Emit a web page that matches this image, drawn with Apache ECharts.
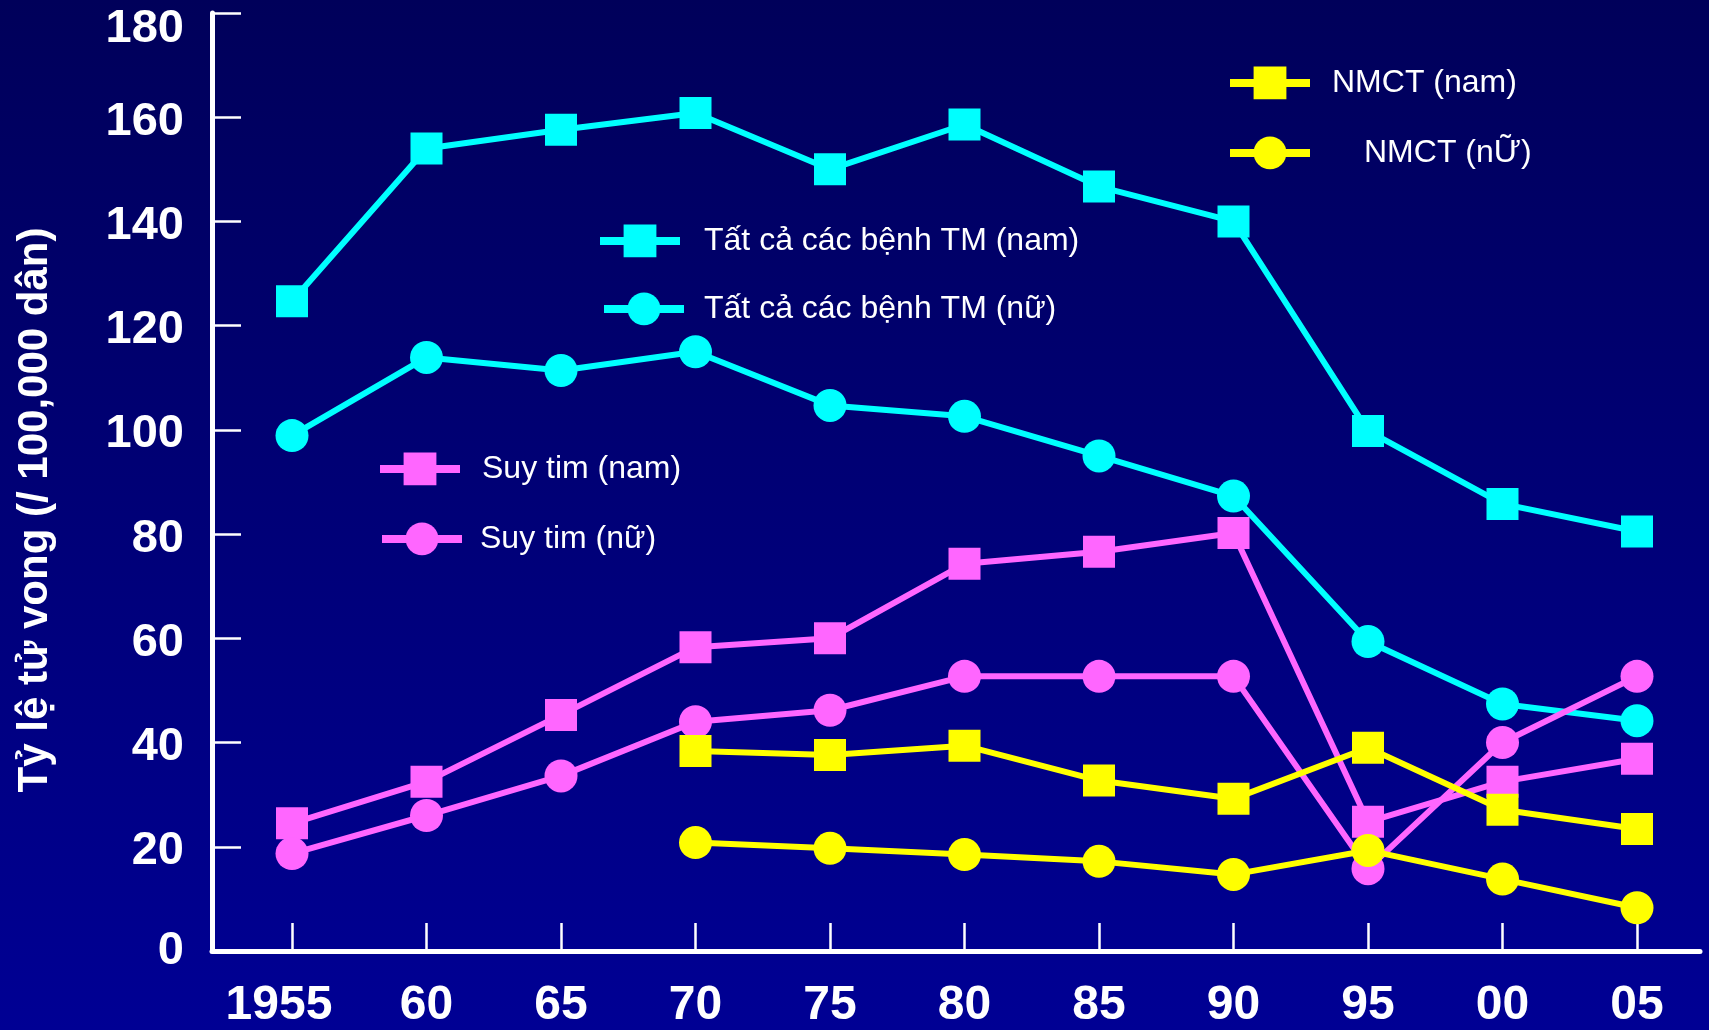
<!DOCTYPE html>
<html>
<head>
<meta charset="utf-8">
<script src="https://cdn.jsdelivr.net/npm/echarts@6/dist/echarts.min.js"></script>
<style>
html,body{margin:0;padding:0;background:#000070;}
#c{width:1709px;height:1030px;background:linear-gradient(to bottom,#00005a 0%,#000094 100%);}
</style>
</head>
<body>
<div id="c"></div>
<script>
// ---- data ----
const years = [1955, 1960, 1965, 1970, 1975, 1980, 1985, 1990, 1995, 2000, 2005];
const xTickLabels = ['1955', '60', '65', '70', '75', '80', '85', '90', '95', '00', '05'];
const tmNam = [124.7, 154, 157.6, 160.8, 150, 158.6, 146.7, 140, 99.8, 85.8, 80.5];
const tmNu  = [98.9, 113.9, 111.4, 115, 104.7, 102.6, 95, 87.3, 59.4, 47.4, 44.2];
const stNam = [24.5, 32.5, 45.3, 58.3, 60, 74.3, 76.6, 80.2, 24.8, 32.5, 36.9];
const stNu  = [18.7, 26, 33.6, 44, 46.2, 52.7, 52.7, 52.7, 15.8, 40, 52.7];
const nmNam = [null, null, null, 38.4, 37.6, 39.4, 32.7, 29.2, 39, 27.1, 23.4];
const nmNu  = [null, null, null, 20.8, 19.7, 18.5, 17.2, 14.7, 19.3, 13.8, 8.3];
const yTicks = [0, 20, 40, 60, 80, 100, 120, 140, 160, 180];

const names = {
  tmNam: 'Tất cả các bệnh TM (nam)',
  tmNu: 'Tất cả các bệnh TM (nữ)',
  stNam: 'Suy tim (nam)',
  stNu: 'Suy tim (nữ)',
  nmNam: 'NMCT (nam)',
  nmNu: 'NMCT (nỮ)'
};

const CYAN = '#00ffff', MAG = '#ff66ff', YEL = '#ffff00';
const FONT = '"Liberation Sans", Arial, sans-serif';

function pairs(vals) {
  const out = [];
  vals.forEach((v, i) => { if (v !== null) out.push([years[i], v]); });
  return out;
}
function mkSeries(name, vals, color, symbol) {
  return {
    name: name, type: 'line', data: pairs(vals),
    symbol: symbol, symbolSize: symbol === 'rect' ? 32 : 33,
    lineStyle: { color: color, width: 6 },
    itemStyle: { color: color },
    emphasis: { disabled: true }
  };
}
function mkLegend(name, left, centerY, gap) {
  return {
    data: [name], left: left - 5, top: centerY - 20.5 + 5, padding: 0,
    itemWidth: 80, itemHeight: 41, orient: 'horizontal',
    lineStyle: { width: 8 },
    textStyle: { color: '#ffffff', fontSize: 32, fontFamily: FONT, padding: [0, 0, 0, gap - 5] },
    selectedMode: false
  };
}
const yLabFont = { color: '#ffffff', fontSize: 47, fontWeight: 'bold', fontFamily: FONT };
const xLabFont = { color: '#ffffff', fontSize: 48, fontWeight: 'bold', fontFamily: FONT };

const chart = echarts.init(document.getElementById('c'), null, { renderer: 'canvas' });
chart.setOption({
  backgroundColor: 'transparent',
  animation: false,
  grid: { left: 212, top: 13, right: 9, bottom: 79, containLabel: false, outerBoundsMode: 'none' },
  legend: [
    mkLegend(names.nmNam, 1231, 82, 22),
    mkLegend(names.nmNu, 1231, 152, 54),
    mkLegend(names.tmNam, 601, 240, 24),
    mkLegend(names.tmNu, 605, 308, 20),
    mkLegend(names.stNam, 381, 468, 22),
    mkLegend(names.stNu, 383, 538, 18)
  ],
  xAxis: {
    type: 'value', min: 1952.026, max: 2007.342,
    axisLine: { lineStyle: { color: '#ffffff', width: 5 } },
    axisTick: { show: true, inside: true, length: 28, lineStyle: { color: '#ffffff', width: 2.5 }, customValues: years },
    axisLabel: Object.assign({
      customValues: years, margin: 31,
      formatter: function (v) {
        const i = years.indexOf(Math.round(v));
        if (i < 0) return '';
        return i === 0 ? '{f|' + xTickLabels[i] + '}' : '{n|' + xTickLabels[i] + '}';
      },
      rich: {
        f: Object.assign({ padding: [0, 26, 0, 0] }, xLabFont),
        n: Object.assign({}, xLabFont)
      }
    }, xLabFont),
    splitLine: { show: false }
  },
  yAxis: {
    type: 'value', min: 0, max: 180, interval: 20,
    axisLine: { show: true, lineStyle: { color: '#ffffff', width: 5 } },
    axisTick: { show: true, inside: true, length: 29, lineStyle: { color: '#ffffff', width: 2.5 }, customValues: yTicks },
    axisLabel: Object.assign({
      customValues: yTicks, margin: 28, verticalAlign: 'top',
      formatter: function (v) {
        if (v === 180) return '{t|' + v + '}';
        if (v === 0) return '{z|' + v + '}';
        return '{n|' + v + '}';
      },
      rich: {
        t: Object.assign({ lineHeight: 32 }, yLabFont),
        n: Object.assign({ lineHeight: 9 }, yLabFont),
        z: Object.assign({ lineHeight: 1 }, yLabFont)
      }
    }, yLabFont),
    splitLine: { show: false },
    name: 'Tỷ lệ tử vong (/ 100,000 dân)',
    nameLocation: 'middle', nameRotate: 90, nameGap: 156,
    nameTextStyle: { color: '#ffffff', fontSize: 42, fontWeight: 'bold', fontFamily: FONT, padding: [0, 56, 0, 0] }
  },
  series: [
    mkSeries(names.tmNam, tmNam, CYAN, 'rect'),
    mkSeries(names.tmNu, tmNu, CYAN, 'circle'),
    mkSeries(names.stNam, stNam, MAG, 'rect'),
    mkSeries(names.stNu, stNu, MAG, 'circle'),
    mkSeries(names.nmNam, nmNam, YEL, 'rect'),
    mkSeries(names.nmNu, nmNu, YEL, 'circle')
  ]
});
</script>
</body>
</html>
